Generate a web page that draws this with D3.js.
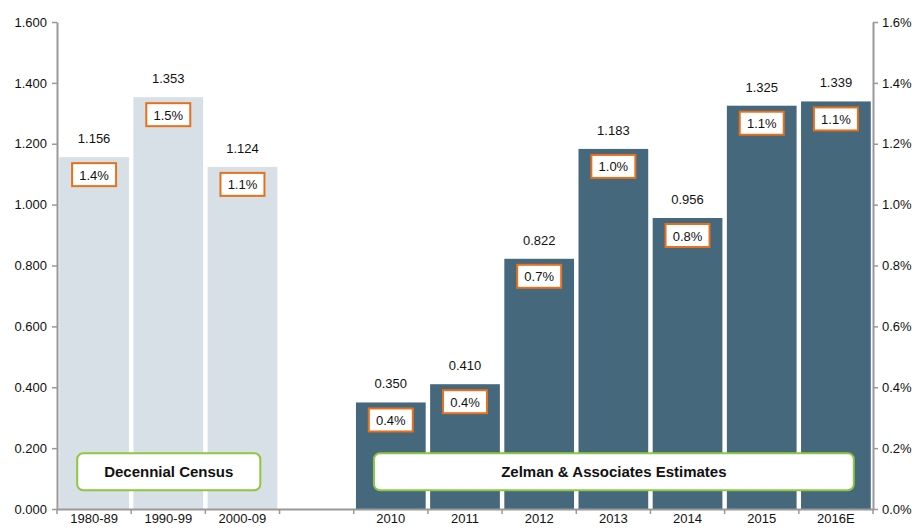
<!DOCTYPE html>
<html>
<head>
<meta charset="utf-8">
<script src="https://cdn.jsdelivr.net/npm/d3@7"></script>
<style>
  body { margin: 0; background: #fff; }
  text { font-family: "Liberation Sans", Arial, sans-serif; }
</style>
</head>
<body>
<svg id="chart"></svg>
<script>
const categories = ["1980-89", "1990-99", "2000-09", "", "2010", "2011", "2012", "2013", "2014", "2015", "2016E"];
const values = [1.156, 1.353, 1.124, null, 0.350, 0.410, 0.822, 1.183, 0.956, 1.325, 1.339];
const shares = ["1.4%", "1.5%", "1.1%", null, "0.4%", "0.4%", "0.7%", "1.0%", "0.8%", "1.1%", "1.1%"];
const groups = ["census", "census", "census", null, "zelman", "zelman", "zelman", "zelman", "zelman", "zelman", "zelman"];
const leftTicks = [0, 0.2, 0.4, 0.6, 0.8, 1.0, 1.2, 1.4, 1.6];
const rightTicks = [0, 0.002, 0.004, 0.006, 0.008, 0.010, 0.012, 0.014, 0.016];
const groupLabels = [
  { text: "Decennial Census", from: "1980-89", to: "2000-09" },
  { text: "Zelman & Associates Estimates", from: "2010", to: "2016E" }
];

const width = 917;
const height = 531;
const margin = { top: 22, right: 44, bottom: 22, left: 57 };
const colors = { census: "#d8e0e7", zelman: "#46687c" };

const svg = d3.select("#chart").attr("width", width).attr("height", height);

const keys = categories.map((c, i) => i);
const x = d3.scaleBand()
  .domain(keys)
  .range([margin.left, width - margin.right])
  .paddingInner(0.06)
  .paddingOuter(0.03);

const y = d3.scaleLinear().domain([0, 1.6]).range([height - margin.bottom, margin.top]);
const y2 = d3.scaleLinear().domain([0, 0.016]).range([height - margin.bottom, margin.top]);

// bars
const rows = keys.filter(i => values[i] != null);
svg.append("g")
  .selectAll("rect")
  .data(rows)
  .enter()
  .append("rect")
  .attr("x", i => x(i))
  .attr("y", i => y(values[i]))
  .attr("width", x.bandwidth())
  .attr("height", i => y(0) - y(values[i]))
  .attr("fill", i => colors[groups[i]]);

// value labels
svg.append("g")
  .selectAll("text")
  .data(rows)
  .enter()
  .append("text")
  .attr("x", i => x(i) + x.bandwidth() / 2)
  .attr("y", i => y(values[i]) - 14)
  .attr("text-anchor", "middle")
  .attr("font-size", 13)
  .attr("fill", "#111")
  .text(i => values[i].toFixed(3));

// share boxes
const box = svg.append("g")
  .selectAll("g")
  .data(rows)
  .enter()
  .append("g")
  .attr("transform", i => `translate(${x(i) + x.bandwidth() / 2}, ${y(values[i]) + 6})`);
box.append("rect")
  .attr("x", -22)
  .attr("y", 0)
  .attr("width", 44)
  .attr("height", 23)
  .attr("fill", "#fff")
  .attr("stroke", "#e8701a")
  .attr("stroke-width", 2);
box.append("text")
  .attr("y", 16.5)
  .attr("text-anchor", "middle")
  .attr("font-size", 13)
  .attr("fill", "#111")
  .text(i => shares[i]);

// group labels
groupLabels.forEach(g => {
  const a = categories.indexOf(g.from);
  const b = categories.indexOf(g.to);
  const x0 = x(a) + 18;
  const x1 = x(b) + x.bandwidth() - 17;
  const gy = y(0.183);
  svg.append("rect")
    .attr("x", x0)
    .attr("y", gy)
    .attr("width", x1 - x0)
    .attr("height", 37)
    .attr("rx", 6)
    .attr("fill", "#fff")
    .attr("stroke", "#8dc640")
    .attr("stroke-width", 2);
  svg.append("text")
    .attr("x", (x0 + x1) / 2)
    .attr("y", gy + 24)
    .attr("text-anchor", "middle")
    .attr("font-size", 15)
    .attr("font-weight", "bold")
    .attr("fill", "#111")
    .text(g.text);
});

// axes
const axisColor = "#999";
const leftAxis = svg.append("g")
  .attr("transform", `translate(${margin.left}, 0)`)
  .call(d3.axisLeft(y).tickValues(leftTicks).tickFormat(d3.format(".3f")).tickSize(5).tickSizeOuter(0));
const rightAxis = svg.append("g")
  .attr("transform", `translate(${width - margin.right}, 0)`)
  .call(d3.axisRight(y2).tickValues(rightTicks).tickFormat(d3.format(".1%")).tickSize(5).tickSizeOuter(0));
[leftAxis, rightAxis].forEach(a => {
  a.select(".domain").attr("stroke", axisColor).attr("stroke-width", 2);
  a.selectAll(".tick line").attr("stroke", axisColor).attr("stroke-width", 1.5);
  a.selectAll(".tick text").attr("font-size", 13).attr("fill", "#111").style("font-family", "Liberation Sans, Arial, sans-serif");
});
leftAxis.selectAll(".tick text").attr("x", -10);
rightAxis.selectAll(".tick text").attr("x", 9);

const bottom = svg.append("g")
  .attr("transform", `translate(0, ${y(0)})`)
  .call(d3.axisBottom(x).tickFormat(i => categories[i]).tickSize(0).tickSizeOuter(0));
bottom.select(".domain").attr("stroke", axisColor).attr("stroke-width", 2);
bottom.selectAll(".tick text").attr("font-size", 13).attr("fill", "#111").attr("dy", 0).attr("y", 14)
  .style("font-family", "Liberation Sans, Arial, sans-serif");

// boundary ticks between categories
const bounds = d3.range(categories.length + 1).map(k => margin.left + k * (width - margin.left - margin.right) / categories.length);
bottom.selectAll(".bound")
  .data(bounds)
  .enter()
  .append("line")
  .attr("class", "bound")
  .attr("x1", d => d)
  .attr("x2", d => d)
  .attr("y1", 0)
  .attr("y2", 5)
  .attr("stroke", axisColor)
  .attr("stroke-width", 1.5);
</script>
</body>
</html>
